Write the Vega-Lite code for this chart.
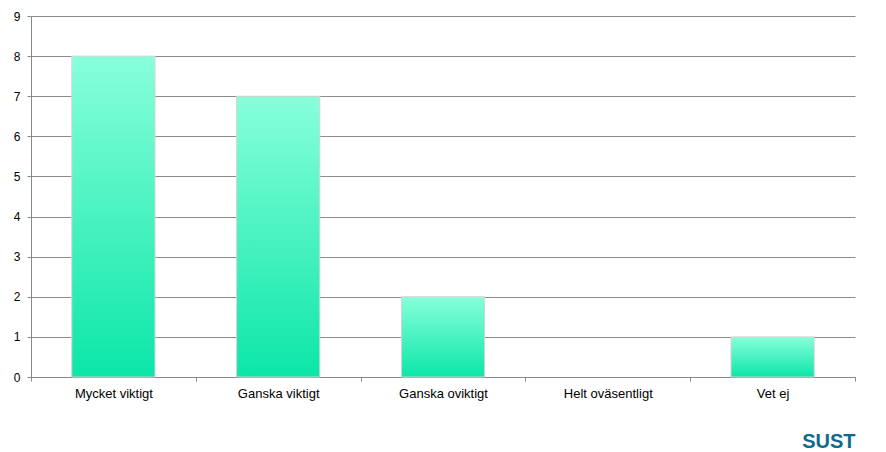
{
  "$schema": "https://vega.github.io/schema/vega-lite/v6.json",
  "width": 824,
  "height": 361,
  "autosize": "none",
  "padding": {"left": 31, "top": 16, "right": 31, "bottom": 75},
  "background": "white",
  "config": {"view": {"stroke": null}, "font": "Liberation Sans"},
  "title": {
    "text": "SUST",
    "orient": "bottom",
    "anchor": "end",
    "offset": 32,
    "fontSize": 20,
    "fontWeight": "bold",
    "color": "#0f6a8c",
    "font": "Liberation Sans"
  },
  "data": {
    "values": [
      {"kategori": "Mycket viktigt", "antal": 8},
      {"kategori": "Ganska viktigt", "antal": 7},
      {"kategori": "Ganska oviktigt", "antal": 2},
      {"kategori": "Helt oväsentligt", "antal": 0},
      {"kategori": "Vet ej", "antal": 1}
    ]
  },
  "mark": {
    "type": "bar",
    "width": {"band": 0.505},
    "strokeWidth": 1,
    "fill": {
      "gradient": "linear",
      "x1": 0, "y1": 0, "x2": 0, "y2": 1,
      "stops": [
        {"offset": 0, "color": "#88ffda"},
        {"offset": 1, "color": "#0ce6a8"}
      ]
    }
  },
  "encoding": {
    "stroke": {
      "condition": {"test": "datum.antal == 0", "value": null},
      "value": "#d4d4d4"
    },
    "x": {
      "field": "kategori",
      "type": "nominal",
      "sort": null,
      "scale": {"paddingInner": 0, "paddingOuter": 0},
      "axis": {
        "title": null,
        "labelAngle": 0,
        "labelFontSize": 13,
        "labelColor": "#000000",
        "labelPadding": 6,
        "domainColor": "#888888",
        "tickColor": "#888888",
        "tickBand": "extent",
        "tickSize": 4,
        "grid": false
      }
    },
    "y": {
      "field": "antal",
      "type": "quantitative",
      "scale": {"domain": [0, 9], "nice": false},
      "axis": {
        "title": null,
        "values": [0, 1, 2, 3, 4, 5, 6, 7, 8, 9],
        "labelFontSize": 12,
        "labelColor": "#000000",
        "labelPadding": 7,
        "domainColor": "#888888",
        "tickColor": "#888888",
        "tickSize": 4,
        "grid": true,
        "gridColor": "#8c8c8c",
        "gridOpacity": 1
      }
    }
  }
}
